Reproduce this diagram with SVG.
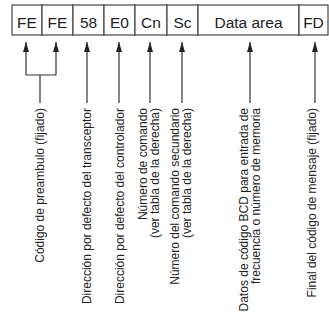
<svg xmlns="http://www.w3.org/2000/svg" width="329" height="324" viewBox="0 0 329 324">
<style>
.cell{fill:#fff;stroke:#444;stroke-width:1.2}
.ct{font-family:"Liberation Sans",Arial,sans-serif;font-size:15.5px;fill:#222;text-anchor:middle}
.lab{font-family:"Liberation Sans",Arial,sans-serif;font-size:12px;fill:#222;text-anchor:end}
.ln{fill:none;stroke:#333;stroke-width:1.2}
</style>
<defs>
<marker id="ah" markerWidth="10" markerHeight="6" refX="10" refY="3" orient="auto" markerUnits="userSpaceOnUse">
<path d="M0,0 L10,3 L0,6 Z" fill="#222"/>
</marker>
</defs>
<rect width="329" height="324" fill="#fff"/>
<g id="frame">
<g id="c1"><rect class="cell" x="12" y="5" width="30" height="30"/><text class="ct" x="27" y="27.5">FE</text></g>
<g id="c2"><rect class="cell" x="42" y="5" width="31" height="30"/><text class="ct" x="57.5" y="27.5">FE</text></g>
<g id="c3"><rect class="cell" x="73" y="5" width="31" height="30"/><text class="ct" x="88.5" y="27.5">58</text></g>
<g id="c4"><rect class="cell" x="104" y="5" width="31" height="30"/><text class="ct" x="119.5" y="27.5">E0</text></g>
<g id="c5"><rect class="cell" x="135" y="5" width="32" height="30"/><text class="ct" x="151" y="27.5">Cn</text></g>
<g id="c6"><rect class="cell" x="167" y="5" width="31" height="30"/><text class="ct" x="182.5" y="27.5">Sc</text></g>
<g id="c7"><rect class="cell" x="198" y="5" width="101" height="30"/><text class="ct" x="248.5" y="27.5">Data area</text></g>
<g id="c8"><rect class="cell" x="299" y="5" width="29" height="30"/><text class="ct" x="313.5" y="27.5">FD</text></g>
</g>
<g id="connectors">
<path class="ln" d="M40,103 V75 M26,75 H56" />
<line class="ln" x1="26" y1="75" x2="26" y2="42" marker-end="url(#ah)"/>
<line class="ln" x1="56" y1="75" x2="56" y2="42" marker-end="url(#ah)"/>
<line class="ln" x1="87" y1="103" x2="87" y2="42" marker-end="url(#ah)"/>
<line class="ln" x1="119" y1="103" x2="119" y2="42" marker-end="url(#ah)"/>
<line class="ln" x1="150" y1="103" x2="150" y2="42" marker-end="url(#ah)"/>
<line class="ln" x1="182" y1="103" x2="182" y2="42" marker-end="url(#ah)"/>
<line class="ln" x1="250" y1="103" x2="250" y2="42" marker-end="url(#ah)"/>
<line class="ln" x1="315" y1="103" x2="315" y2="42" marker-end="url(#ah)"/>
</g>
<g id="l1"><text class="lab" transform="translate(44,108) rotate(-90)">Código de preambulo (fijado)</text></g>
<g id="l2"><text class="lab" transform="translate(91,108) rotate(-90)">Dirección por defecto del transceptor</text></g>
<g id="l3"><text class="lab" transform="translate(124,108) rotate(-90)">Dirección por defecto del controlador</text></g>
<g id="l4"><text class="lab" transform="translate(147,108) rotate(-90)">Número de comando</text><text class="lab" transform="translate(159,108) rotate(-90)">(ver tabla de la derecha)</text></g>
<g id="l5"><text class="lab" transform="translate(179,108) rotate(-90)">Número del comando secundario</text><text class="lab" transform="translate(191,108) rotate(-90)">(ver tabla de la derecha)</text></g>
<g id="l6"><text class="lab" transform="translate(248,108) rotate(-90)">Datos de código BCD para entrada de</text><text class="lab" transform="translate(260,108) rotate(-90)">frecuencia o número de memoria</text></g>
<g id="l7"><text class="lab" transform="translate(316,108) rotate(-90)">Final del código de mensaje (fijado)</text></g>
</svg>
